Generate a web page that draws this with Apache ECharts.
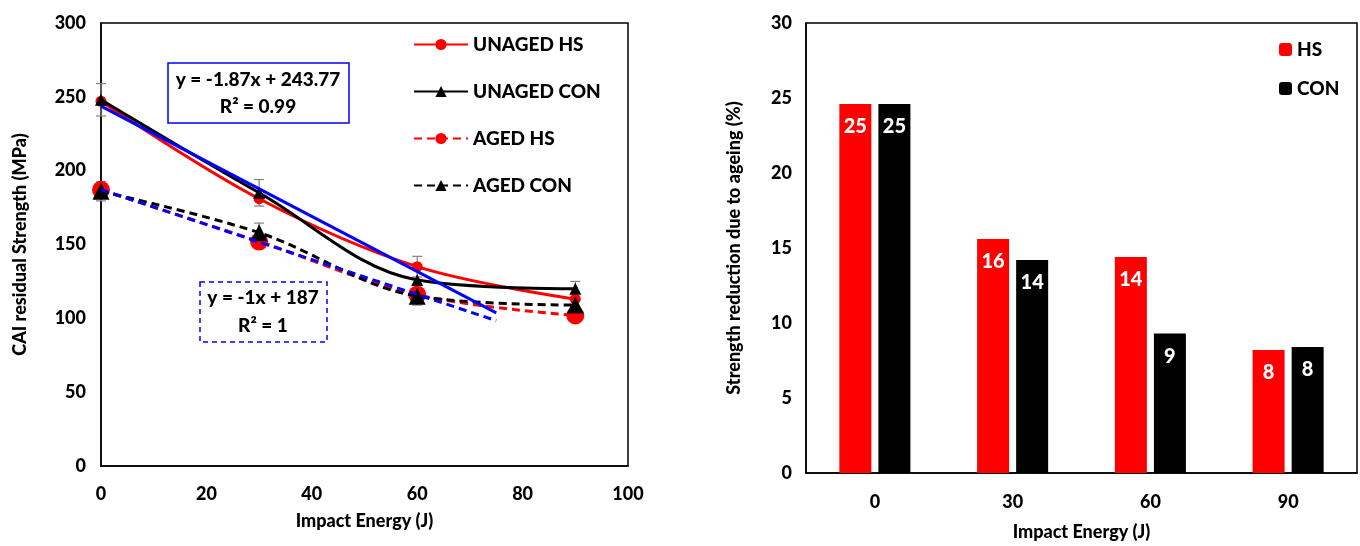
<!DOCTYPE html>
<html lang="en">
<head>
    <meta charset="UTF-8">
    <title>CAI residual strength</title>
    <script src="https://cdn.jsdelivr.net/npm/echarts@6/dist/echarts.min.js"></script>
    <style>
        body { margin: 0; background: #fff; }
    </style>
</head>
<body>
    <div id="main" style="width: 1360px; height: 546px"></div>
    <script>
        // left chart: CAI residual strength vs impact energy
        var energies = [0, 30, 60, 90];
        var unagedHs = [247, 181, 135, 113];
        var unagedCon = [248, 185, 126, 120];
        var agedHs = [187, 152, 116, 102];
        var agedCon = [186, 158, 115, 109];
        // error bar half-widths (0 = none drawn)
        var unagedHsErr = [0, 0, 7, 0];
        var unagedConErr = [11, 9, 0, 5];
        var agedConErr = [6.5, 6.5, 6, 0];
        var trendEnd = 75;

        // right chart: strength reduction due to ageing
        var barCats = ['0', '30', '60', '90'];
        var hsReduction = [24.6, 15.6, 14.4, 8.2];
        var conReduction = [24.6, 14.2, 9.3, 8.4];

        var font = 'Lato';
        var weight = 900;

        function pairs(xs, ys) {
            var res = [];
            for (var i = 0; i < xs.length; i++) res.push([xs[i], ys[i]]);
            return res;
        }

        // linear trend over the first three points, like the excel trendline
        function trend(ys) {
            var n = 3, sx = 0, sy = 0, sxy = 0, sxx = 0;
            for (var i = 0; i < n; i++) {
                sx += energies[i]; sy += ys[i];
                sxy += energies[i] * ys[i]; sxx += energies[i] * energies[i];
            }
            var b = (n * sxy - sx * sy) / (n * sxx - sx * sx);
            var a = (sy - b * sx) / n;
            return [[0, a], [trendEnd, a + b * trendEnd]];
        }

        function errData() {
            var res = [];
            [[unagedHs, unagedHsErr], [unagedCon, unagedConErr], [agedCon, agedConErr]].forEach(function (p) {
                for (var i = 0; i < energies.length; i++) {
                    if (p[1][i] > 0) res.push([energies[i], p[0][i], p[1][i]]);
                }
            });
            return res;
        }

        function lineSeries(name, data, color, dashed, symbol, size, z) {
            return {
                name: name, type: 'line', xAxisIndex: 0, yAxisIndex: 0,
                data: pairs(energies, data), smooth: 0.35,
                symbol: symbol, symbolSize: size, z: z,
                itemStyle: { color: color },
                lineStyle: { color: color, width: 3, type: dashed ? [8, 5] : 'solid' }
            };
        }

        var axisText = { color: '#000', fontFamily: font, fontWeight: weight, fontSize: 18 };
        var nameText = { color: '#000', fontFamily: font, fontWeight: weight, fontSize: 18 };

        echarts.init(document.getElementById('main')).setOption({
            animation: false,
            textStyle: { fontFamily: font },
            grid: [
                { left: 101, right: 732, top: 23, bottom: 80, show: true, borderColor: '#000', borderWidth: 1.5 },
                { left: 806, right: 3, top: 23, bottom: 72, show: true, borderColor: '#000', borderWidth: 1.5 }
            ],
            legend: [{
                orient: 'vertical', left: 408, top: 30, itemWidth: 54, itemHeight: 14, itemGap: 28,
                textStyle: { color: '#000', fontFamily: font, fontWeight: weight, fontSize: 19 },
                data: ['UNAGED HS', 'UNAGED CON', 'AGED HS', 'AGED CON']
            }, {
                orient: 'vertical', left: 1274, top: 35, itemWidth: 13, itemHeight: 13, itemGap: 20,
                textStyle: { color: '#000', fontFamily: font, fontWeight: weight, fontSize: 19 },
                data: ['HS', 'CON']
            }],
            xAxis: [{
                gridIndex: 0, type: 'value', min: 0, max: 100, interval: 20,
                name: 'Impact Energy (J)', nameLocation: 'middle', nameGap: 46, nameTextStyle: nameText,
                axisLine: { lineStyle: { color: '#000', width: 1.5 } },
                axisTick: { show: false }, splitLine: { show: false },
                axisLabel: Object.assign({ margin: 19 }, axisText)
            }, {
                gridIndex: 1, type: 'category', data: barCats,
                name: 'Impact Energy (J)', nameLocation: 'middle', nameGap: 50, nameTextStyle: nameText,
                axisLine: { lineStyle: { color: '#000', width: 1.5 } },
                axisTick: { show: false },
                axisLabel: Object.assign({ margin: 20 }, axisText)
            }],
            yAxis: [{
                gridIndex: 0, type: 'value', min: 0, max: 300, interval: 50,
                name: 'CAI residual Strength (MPa)', nameLocation: 'middle', nameGap: 72, nameTextStyle: nameText,
                axisLine: { show: true, lineStyle: { color: '#000', width: 1.5 } },
                axisTick: { show: false }, splitLine: { show: false },
                axisLabel: Object.assign({ margin: 15 }, axisText)
            }, {
                gridIndex: 1, type: 'value', min: 0, max: 30, interval: 5,
                name: 'Strength reduction due to ageing (%)', nameLocation: 'middle', nameGap: 63, nameTextStyle: nameText,
                axisLine: { show: true, lineStyle: { color: '#000', width: 1.5 } },
                axisTick: { show: false }, splitLine: { show: false },
                axisLabel: Object.assign({ margin: 14 }, axisText)
            }],
            series: [
                {
                    name: 'err', type: 'custom', xAxisIndex: 0, yAxisIndex: 0, z: 1,
                    data: errData(),
                    renderItem: function (params, api) {
                        var x = api.coord([api.value(0), api.value(1)])[0];
                        var hi = api.coord([api.value(0), api.value(1) + api.value(2)])[1];
                        var lo = api.coord([api.value(0), api.value(1) - api.value(2)])[1];
                        var st = { stroke: '#808080', lineWidth: 1.2 };
                        return {
                            type: 'group', children: [
                                { type: 'line', shape: { x1: x, y1: hi, x2: x, y2: lo }, style: st },
                                { type: 'line', shape: { x1: x - 5, y1: hi, x2: x + 5, y2: hi }, style: st },
                                { type: 'line', shape: { x1: x - 5, y1: lo, x2: x + 5, y2: lo }, style: st }
                            ]
                        };
                    }
                },
                lineSeries('UNAGED HS', unagedHs, '#ff0000', false, 'circle', 11, 3),
                lineSeries('UNAGED CON', unagedCon, '#000000', false, 'triangle', 12, 4),
                lineSeries('AGED HS', agedHs, '#ff0000', true, 'circle', 18, 3),
                lineSeries('AGED CON', agedCon, '#000000', true, 'triangle', 17, 4),
                {
                    name: 'trend unaged', type: 'line', xAxisIndex: 0, yAxisIndex: 0, z: 5,
                    data: trend(unagedHs), symbol: 'none',
                    lineStyle: { color: '#0000ff', width: 3 }
                },
                {
                    name: 'trend aged', type: 'line', xAxisIndex: 0, yAxisIndex: 0, z: 5,
                    data: trend(agedHs), symbol: 'none',
                    lineStyle: { color: '#0000ff', width: 3, type: [8, 5] }
                },
                {
                    name: 'HS', type: 'bar', xAxisIndex: 1, yAxisIndex: 1,
                    data: hsReduction, barWidth: 32, barGap: '22%',
                    itemStyle: { color: '#ff0000' },
                    label: {
                        show: true, position: 'insideTop', distance: 13, color: '#fff',
                        fontFamily: font, fontWeight: weight, fontSize: 20,
                        formatter: function (p) { return Math.round(p.value); }
                    }
                },
                {
                    name: 'CON', type: 'bar', xAxisIndex: 1, yAxisIndex: 1,
                    data: conReduction, barWidth: 32,
                    itemStyle: { color: '#000000' },
                    label: {
                        show: true, position: 'insideTop', distance: 13, color: '#fff',
                        fontFamily: font, fontWeight: weight, fontSize: 20,
                        formatter: function (p) { return Math.round(p.value); }
                    }
                }
            ],
            graphic: [
                { type: 'rect', shape: { x: 168, y: 63, width: 181, height: 60 }, style: { fill: '#fff', stroke: '#0000ff', lineWidth: 1.5 }, z: 10 },
                { type: 'text', x: 258, y: 93, z: 11, style: { text: 'y = -1.87x + 243.77\nR² = 0.99', align: 'center', verticalAlign: 'middle', lineHeight: 27, fill: '#000', font: '900 19px Lato' } },
                { type: 'rect', shape: { x: 200, y: 282, width: 127, height: 60 }, style: { fill: '#fff', stroke: '#0000ff', lineWidth: 1.5, lineDash: [5, 4] }, z: 10 },
                { type: 'text', x: 263, y: 312, z: 11, style: { text: 'y = -1x + 187\nR² = 1', align: 'center', verticalAlign: 'middle', lineHeight: 28, fill: '#000', font: '900 19px Lato' } }
            ]
        });
    </script>
</body>
</html>
